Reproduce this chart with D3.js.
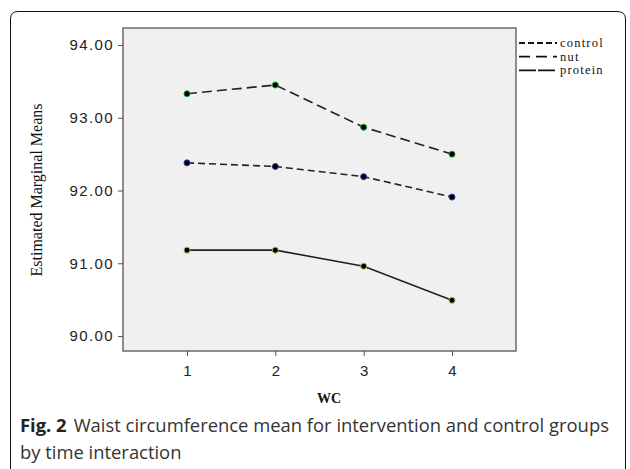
<!DOCTYPE html>
<html>
<head>
<meta charset="utf-8">
<script src="https://cdn.jsdelivr.net/npm/d3@7"></script>
<style>
  body { margin: 0; background: #fff; }
  svg { display: block; }
</style>
</head>
<body>
<div id="chart"></div>
<script>
/* DATA */
const times = [1, 2, 3, 4];
const nutMeans = [93.33, 93.45, 92.87, 92.50];
const controlMeans = [92.38, 92.33, 92.19, 91.91];
const proteinMeans = [91.18, 91.18, 90.96, 90.49];
const yTicks = [90, 91, 92, 93, 94];
const legendNames = ["control", "nut", "protein"];

const width = 630, height = 469;
const plot = { left: 123, top: 28, right: 516, bottom: 351 };
const sans = "'Liberation Sans', Arial, sans-serif";
const serif = "'Liberation Serif', 'Times New Roman', serif";

const series = [
  { name: "nut", values: nutMeans, dash: "10,5", marker: "#1f9e3a" },
  { name: "control", values: controlMeans, dash: "7,4", marker: "#2a3fb0" },
  { name: "protein", values: proteinMeans, dash: null, marker: "#b9a860" }
];
const legendDash = { control: "6,3", nut: "11,6", protein: "17,2" };

const svg = d3.select("#chart").append("svg")
  .attr("width", width).attr("height", height);

// outer frame (rounded, open at bottom)
svg.append("path")
  .attr("d", "M10.5,475 L10.5,19 Q10.5,11.5 18,11.5 L617,11.5 Q625.5,11.5 625.5,19 L625.5,475")
  .attr("fill", "none").attr("stroke", "#111").attr("stroke-width", 1);

const x = d3.scaleLinear().domain([1, 4]).range([187, 452]);
const y = d3.scaleLinear().domain([90, 94]).range([336, 45]);

svg.append("rect")
  .attr("x", plot.left).attr("y", plot.top)
  .attr("width", plot.right - plot.left).attr("height", plot.bottom - plot.top)
  .attr("fill", "#f0f0f0").attr("stroke", "#6a6a6a").attr("stroke-width", 1.5);

// axes
const yAxis = d3.axisLeft(y).tickValues(yTicks).tickFormat(d3.format(".2f")).tickSize(5).tickSizeOuter(0);
const gy = svg.append("g").attr("transform", `translate(${plot.left},0)`).call(yAxis);
gy.attr("font-family", sans).attr("font-size", 15);
gy.select(".domain").remove();
gy.selectAll("line").attr("stroke", "#555");
gy.selectAll("text").attr("fill", "#222").attr("x", -9).attr("letter-spacing", 1.4);

const xAxis = d3.axisBottom(x).tickValues(times).tickFormat(d3.format("d")).tickSize(5).tickSizeOuter(0);
const gx = svg.append("g").attr("transform", `translate(0,${plot.bottom})`).call(xAxis);
gx.attr("font-family", sans).attr("font-size", 15);
gx.select(".domain").remove();
gx.selectAll("line").attr("stroke", "#555");
gx.selectAll("text").attr("fill", "#222").attr("y", 14);

// axis titles
svg.append("text")
  .attr("transform", "translate(42,190) rotate(-90)")
  .attr("text-anchor", "middle")
  .attr("font-family", serif)
  .attr("font-size", 16).attr("fill", "#111")
  .text("Estimated Marginal Means");

svg.append("text")
  .attr("x", 329).attr("y", 403)
  .attr("text-anchor", "middle")
  .attr("font-family", serif)
  .attr("font-weight", "bold").attr("font-size", 14).attr("fill", "#111")
  .text("WC");

// lines and markers
const line = d3.line().x((d, i) => x(times[i])).y(d => y(d));
series.forEach(s => {
  svg.append("path")
    .datum(s.values)
    .attr("d", line)
    .attr("fill", "none")
    .attr("stroke", "#222")
    .attr("stroke-width", 1.6)
    .attr("stroke-dasharray", s.dash);
  svg.selectAll(".pt-" + s.name)
    .data(s.values)
    .join("circle")
    .attr("class", "pt-" + s.name)
    .attr("cx", (d, i) => x(times[i]))
    .attr("cy", d => y(d))
    .attr("r", 3)
    .attr("fill", "#000")
    .attr("stroke", s.marker)
    .attr("stroke-width", 1);
});

// legend
const lg = svg.append("g");
legendNames.forEach((name, i) => {
  const ly = 43 + i * 13.7;
  lg.append("line")
    .attr("x1", 519).attr("x2", 557).attr("y1", ly).attr("y2", ly)
    .attr("stroke", "#111").attr("stroke-width", 1.8)
    .attr("stroke-dasharray", legendDash[name]);
  lg.append("text")
    .attr("x", 560).attr("y", ly + 4)
    .attr("font-family", serif)
    .attr("font-size", 12.5).attr("letter-spacing", 1.2).attr("fill", "#111")
    .text(name);
});

// caption
const cap = svg.append("text")
  .attr("x", 20).attr("y", 432)
  .attr("font-family", "'Open Sans', 'Noto Sans', sans-serif")
  .attr("font-size", 18.4).attr("fill", "#333");
cap.append("tspan").attr("font-weight", "bold").attr("fill", "#222").text("Fig. 2");
cap.append("tspan").attr("dx", 7).text("Waist circumference mean for intervention and control groups");
svg.append("text")
  .attr("x", 20).attr("y", 459)
  .attr("font-family", "'Open Sans', 'Noto Sans', sans-serif")
  .attr("font-size", 18.4).attr("fill", "#333")
  .text("by time interaction");
</script>
</body>
</html>
